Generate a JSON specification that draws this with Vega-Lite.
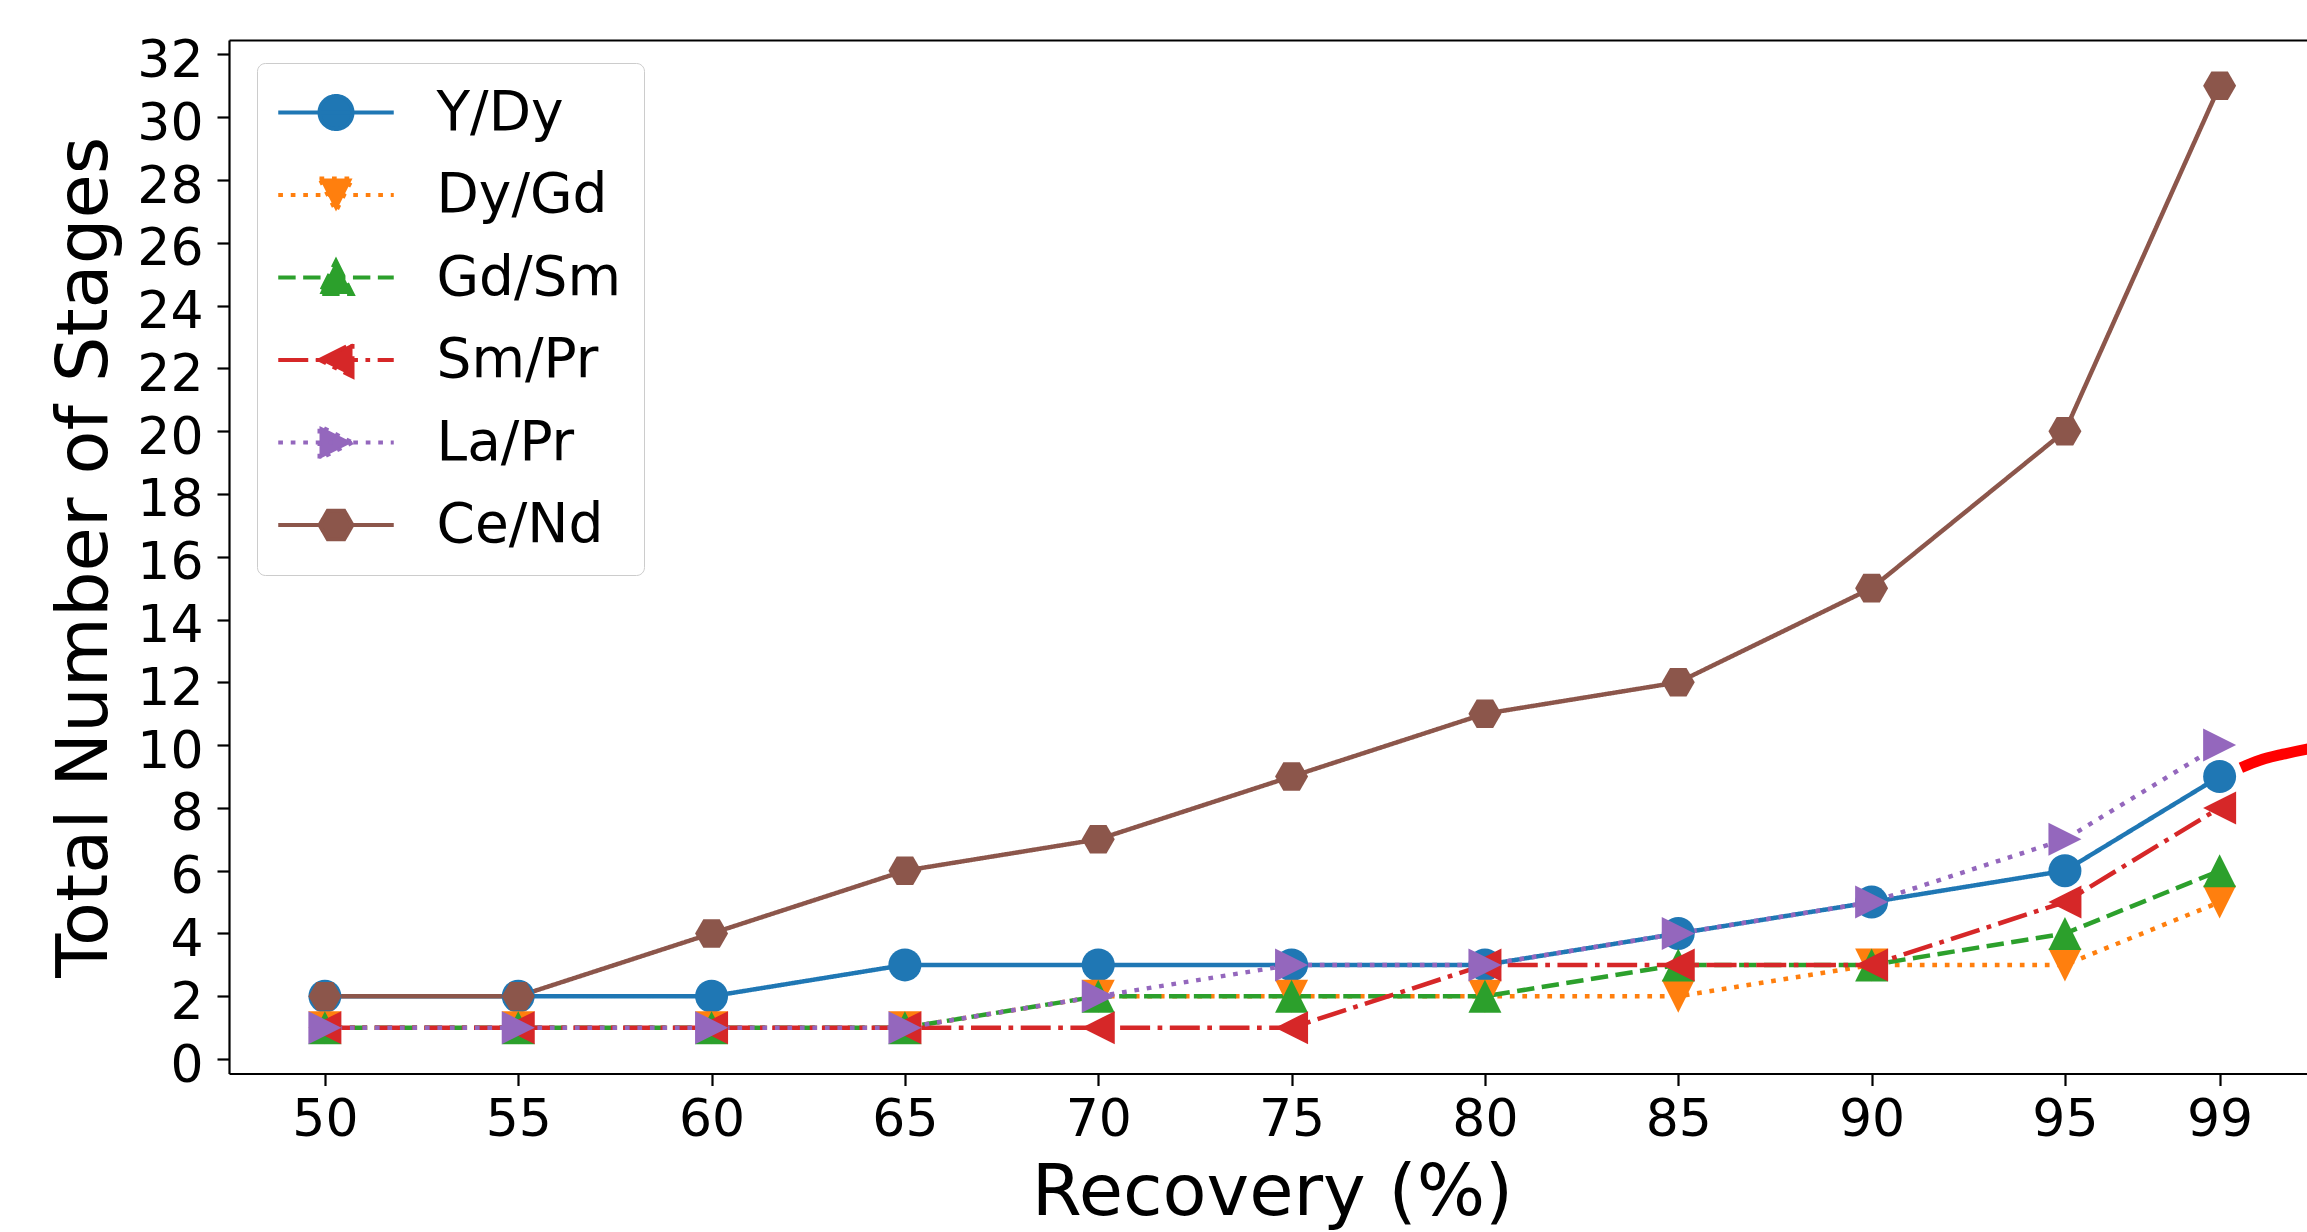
{
  "$schema": "https://vega.github.io/schema/vega-lite/v6.json",
  "width": 2078,
  "height": 1033.5,
  "autosize": {"type": "none"},
  "padding": {"left": 229, "top": 40, "right": 0, "bottom": 158.5},
  "background": "white",
  "config": {
    "view": {"stroke": null},
    "axis": {
      "grid": false,
      "labelFont": "DejaVu Sans",
      "titleFont": "DejaVu Sans",
      "labelColor": "black",
      "titleColor": "black",
      "titleFontWeight": "normal",
      "domainColor": "black",
      "domainWidth": 2.2,
      "tickColor": "black",
      "tickWidth": 2.2,
      "tickSize": 12,
      "labelFontSize": 52,
      "titleFontSize": 72,
      "labelOverlap": false,
      "labelFlush": false
    }
  },
  "datasets": {
    "main": [
      {"recovery": 50, "stages": 2, "series": "Y/Dy"},
      {"recovery": 55, "stages": 2, "series": "Y/Dy"},
      {"recovery": 60, "stages": 2, "series": "Y/Dy"},
      {"recovery": 65, "stages": 3, "series": "Y/Dy"},
      {"recovery": 70, "stages": 3, "series": "Y/Dy"},
      {"recovery": 75, "stages": 3, "series": "Y/Dy"},
      {"recovery": 80, "stages": 3, "series": "Y/Dy"},
      {"recovery": 85, "stages": 4, "series": "Y/Dy"},
      {"recovery": 90, "stages": 5, "series": "Y/Dy"},
      {"recovery": 95, "stages": 6, "series": "Y/Dy"},
      {"recovery": 99, "stages": 9, "series": "Y/Dy"},
      {"recovery": 50, "stages": 1, "series": "Dy/Gd"},
      {"recovery": 55, "stages": 1, "series": "Dy/Gd"},
      {"recovery": 60, "stages": 1, "series": "Dy/Gd"},
      {"recovery": 65, "stages": 1, "series": "Dy/Gd"},
      {"recovery": 70, "stages": 2, "series": "Dy/Gd"},
      {"recovery": 75, "stages": 2, "series": "Dy/Gd"},
      {"recovery": 80, "stages": 2, "series": "Dy/Gd"},
      {"recovery": 85, "stages": 2, "series": "Dy/Gd"},
      {"recovery": 90, "stages": 3, "series": "Dy/Gd"},
      {"recovery": 95, "stages": 3, "series": "Dy/Gd"},
      {"recovery": 99, "stages": 5, "series": "Dy/Gd"},
      {"recovery": 50, "stages": 1, "series": "Gd/Sm"},
      {"recovery": 55, "stages": 1, "series": "Gd/Sm"},
      {"recovery": 60, "stages": 1, "series": "Gd/Sm"},
      {"recovery": 65, "stages": 1, "series": "Gd/Sm"},
      {"recovery": 70, "stages": 2, "series": "Gd/Sm"},
      {"recovery": 75, "stages": 2, "series": "Gd/Sm"},
      {"recovery": 80, "stages": 2, "series": "Gd/Sm"},
      {"recovery": 85, "stages": 3, "series": "Gd/Sm"},
      {"recovery": 90, "stages": 3, "series": "Gd/Sm"},
      {"recovery": 95, "stages": 4, "series": "Gd/Sm"},
      {"recovery": 99, "stages": 6, "series": "Gd/Sm"},
      {"recovery": 50, "stages": 1, "series": "Sm/Pr"},
      {"recovery": 55, "stages": 1, "series": "Sm/Pr"},
      {"recovery": 60, "stages": 1, "series": "Sm/Pr"},
      {"recovery": 65, "stages": 1, "series": "Sm/Pr"},
      {"recovery": 70, "stages": 1, "series": "Sm/Pr"},
      {"recovery": 75, "stages": 1, "series": "Sm/Pr"},
      {"recovery": 80, "stages": 3, "series": "Sm/Pr"},
      {"recovery": 85, "stages": 3, "series": "Sm/Pr"},
      {"recovery": 90, "stages": 3, "series": "Sm/Pr"},
      {"recovery": 95, "stages": 5, "series": "Sm/Pr"},
      {"recovery": 99, "stages": 8, "series": "Sm/Pr"},
      {"recovery": 50, "stages": 1, "series": "La/Pr"},
      {"recovery": 55, "stages": 1, "series": "La/Pr"},
      {"recovery": 60, "stages": 1, "series": "La/Pr"},
      {"recovery": 65, "stages": 1, "series": "La/Pr"},
      {"recovery": 70, "stages": 2, "series": "La/Pr"},
      {"recovery": 75, "stages": 3, "series": "La/Pr"},
      {"recovery": 80, "stages": 3, "series": "La/Pr"},
      {"recovery": 85, "stages": 4, "series": "La/Pr"},
      {"recovery": 90, "stages": 5, "series": "La/Pr"},
      {"recovery": 95, "stages": 7, "series": "La/Pr"},
      {"recovery": 99, "stages": 10, "series": "La/Pr"},
      {"recovery": 50, "stages": 2, "series": "Ce/Nd"},
      {"recovery": 55, "stages": 2, "series": "Ce/Nd"},
      {"recovery": 60, "stages": 4, "series": "Ce/Nd"},
      {"recovery": 65, "stages": 6, "series": "Ce/Nd"},
      {"recovery": 70, "stages": 7, "series": "Ce/Nd"},
      {"recovery": 75, "stages": 9, "series": "Ce/Nd"},
      {"recovery": 80, "stages": 11, "series": "Ce/Nd"},
      {"recovery": 85, "stages": 12, "series": "Ce/Nd"},
      {"recovery": 90, "stages": 15, "series": "Ce/Nd"},
      {"recovery": 95, "stages": 20, "series": "Ce/Nd"},
      {"recovery": 99, "stages": 31, "series": "Ce/Nd"}
    ],
    "arc": [
      {"recovery": 99.55, "stages": 9.28},
      {"recovery": 100.04, "stages": 9.52},
      {"recovery": 100.64, "stages": 9.71},
      {"recovery": 101.26, "stages": 9.87},
      {"recovery": 101.6, "stages": 9.94}
    ]
  },
  "layer": [
    {
      "data": {"name": "main"},
      "mark": {"type": "line", "strokeWidth": 4.5, "strokeCap": "butt"},
      "encoding": {
        "x": {
          "field": "recovery", "type": "quantitative",
          "scale": {"domain": [47.52, 101.26], "nice": false, "zero": false},
          "axis": {
            "orient": "bottom",
            "values": [50, 55, 60, 65, 70, 75, 80, 85, 90, 95, 99],
            "title": "Recovery (%)",
            "labelPadding": 9,
            "titleX": 1043, "titleY": 141,
            "titleAlign": "center", "titleBaseline": "alphabetic"
          }
        },
        "y": {
          "field": "stages", "type": "quantitative",
          "scale": {"domain": [-0.46, 32.46], "nice": false, "zero": false},
          "axis": {
            "orient": "left",
            "values": [0, 2, 4, 6, 8, 10, 12, 14, 16, 18, 20, 22, 24, 26, 28, 30, 32],
            "title": "Total Number of Stages",
            "labelPadding": 14,
            "labelOffset": 6,
            "titleX": -123, "titleY": 516.75,
            "titleAngle": 270, "titleAlign": "center", "titleBaseline": "alphabetic"
          }
        },
        "color": {
          "field": "series", "type": "nominal", "legend": null,
          "scale": {
            "domain": ["Y/Dy", "Dy/Gd", "Gd/Sm", "Sm/Pr", "La/Pr", "Ce/Nd"],
            "range": ["#1f77b4", "#ff7f0e", "#2ca02c", "#d62728", "#9467bd", "#8c564b"]
          }
        },
        "strokeDash": {
          "field": "series", "type": "nominal", "legend": null,
          "scale": {
            "domain": ["Y/Dy", "Dy/Gd", "Gd/Sm", "Sm/Pr", "La/Pr", "Ce/Nd"],
            "range": [[1, 0], [4.7, 7.8], [17.4, 7.5], [30, 7.5, 4.7, 7.5], [4.7, 7.8], [1, 0]]
          }
        }
      }
    },
    {
      "data": {"name": "main"},
      "mark": {"type": "point", "filled": true, "opacity": 1, "size": 1089, "strokeWidth": 0},
      "encoding": {
        "x": {"field": "recovery", "type": "quantitative", "scale": {"domain": [47.52, 101.26], "nice": false, "zero": false}, "axis": null},
        "y": {"field": "stages", "type": "quantitative", "scale": {"domain": [-0.46, 32.46], "nice": false, "zero": false}},
        "color": {
          "field": "series", "type": "nominal", "legend": null,
          "scale": {
            "domain": ["Y/Dy", "Dy/Gd", "Gd/Sm", "Sm/Pr", "La/Pr", "Ce/Nd"],
            "range": ["#1f77b4", "#ff7f0e", "#2ca02c", "#d62728", "#9467bd", "#8c564b"]
          }
        },
        "shape": {
          "field": "series", "type": "nominal", "legend": null,
          "scale": {
            "domain": ["Y/Dy", "Dy/Gd", "Gd/Sm", "Sm/Pr", "La/Pr", "Ce/Nd"],
            "range": [
              "circle",
              "M-1,-1L1,-1L0,1Z",
              "M0,-1L1,1L-1,1Z",
              "M-1,0L1,-1L1,1Z",
              "M1,0L-1,1L-1,-1Z",
              "M1,0L0.5,0.866L-0.5,0.866L-1,0L-0.5,-0.866L0.5,-0.866Z"
            ]
          }
        }
      }
    },
    {
      "data": {"name": "main"},
      "transform": [{"filter": "false"}],
      "mark": {"type": "point", "filled": true, "opacity": 1, "strokeWidth": 4},
      "encoding": {
        "x": {"field": "recovery", "type": "quantitative", "scale": {"domain": [47.52, 101.26], "nice": false, "zero": false}, "axis": null},
        "y": {"field": "stages", "type": "quantitative", "scale": {"domain": [-0.46, 32.46], "nice": false, "zero": false}},
        "fill": {
          "field": "series", "type": "nominal",
          "scale": {
            "domain": ["Y/Dy", "Dy/Gd", "Gd/Sm", "Sm/Pr", "La/Pr", "Ce/Nd"],
            "range": ["#1f77b4", "#ff7f0e", "#2ca02c", "#d62728", "#9467bd", "#8c564b"]
          },
          "legend": {
            "title": null, "orient": "none", "legendX": 28, "legendY": 23,
            "padding": 22, "rowPadding": 26.5, "symbolSize": 1089, "symbolOffset": 29.5, "labelOffset": 73,
            "labelFontSize": 55, "labelFont": "DejaVu Sans", "labelColor": "black", "labelLimit": 400,
            "strokeColor": "#cccccc", "fillColor": "rgba(255,255,255,0.8)", "cornerRadius": 8,
            "symbolStrokeWidth": 4
          }
        },
        "stroke": {
          "field": "series", "type": "nominal",
          "scale": {
            "domain": ["Y/Dy", "Dy/Gd", "Gd/Sm", "Sm/Pr", "La/Pr", "Ce/Nd"],
            "range": ["#1f77b4", "#ff7f0e", "#2ca02c", "#d62728", "#9467bd", "#8c564b"]
          },
          "legend": {
            "title": null, "orient": "none", "legendX": 28, "legendY": 23,
            "padding": 22, "rowPadding": 26.5, "symbolSize": 1089, "symbolOffset": 29.5, "labelOffset": 73,
            "labelFontSize": 55, "labelFont": "DejaVu Sans", "labelColor": "black", "labelLimit": 400,
            "strokeColor": "#cccccc", "fillColor": "rgba(255,255,255,0.8)", "cornerRadius": 8,
            "symbolStrokeWidth": 4
          }
        },
        "shape": {
          "field": "series", "type": "nominal",
          "scale": {
            "domain": ["Y/Dy", "Dy/Gd", "Gd/Sm", "Sm/Pr", "La/Pr", "Ce/Nd"],
            "range": [
              "M-3.5,0H3.5M1,0A1,1,0,1,1,-1,0A1,1,0,1,1,1,0Z",
              "M-3.5,0H3.5M-1,-1L1,-1L0,1Z",
              "M-3.5,0H3.5M0,-1L1,1L-1,1Z",
              "M-3.5,0H3.5M-1,0L1,-1L1,1Z",
              "M-3.5,0H3.5M1,0L-1,1L-1,-1Z",
              "M-3.5,0H3.5M1,0L0.5,0.866L-0.5,0.866L-1,0L-0.5,-0.866L0.5,-0.866Z"
            ]
          },
          "legend": {
            "title": null, "orient": "none", "legendX": 28, "legendY": 23,
            "padding": 22, "rowPadding": 26.5, "symbolSize": 1089, "symbolOffset": 29.5, "labelOffset": 73,
            "labelFontSize": 55, "labelFont": "DejaVu Sans", "labelColor": "black", "labelLimit": 400,
            "strokeColor": "#cccccc", "fillColor": "rgba(255,255,255,0.8)", "cornerRadius": 8,
            "symbolStrokeWidth": 4
          }
        },
        "strokeDash": {
          "field": "series", "type": "nominal",
          "scale": {
            "domain": ["Y/Dy", "Dy/Gd", "Gd/Sm", "Sm/Pr", "La/Pr", "Ce/Nd"],
            "range": [[1, 0], [4.7, 7.8], [17.4, 7.5], [30, 7.5, 4.7, 7.5], [4.7, 7.8], [1, 0]]
          },
          "legend": {
            "title": null, "orient": "none", "legendX": 28, "legendY": 23,
            "padding": 22, "rowPadding": 26.5, "symbolSize": 1089, "symbolOffset": 29.5, "labelOffset": 73,
            "labelFontSize": 55, "labelFont": "DejaVu Sans", "labelColor": "black", "labelLimit": 400,
            "strokeColor": "#cccccc", "fillColor": "rgba(255,255,255,0.8)", "cornerRadius": 8,
            "symbolStrokeWidth": 4
          }
        }
      }
    },
    {
      "data": {"name": "arc"},
      "mark": {"type": "line", "color": "#ff0000", "strokeWidth": 11, "strokeCap": "butt", "interpolate": "monotone", "clip": true},
      "encoding": {
        "x": {
          "field": "recovery", "type": "quantitative",
          "scale": {"domain": [47.52, 101.26], "nice": false, "zero": false},
          "axis": {"orient": "top", "labels": false, "ticks": false, "title": null, "domain": true}
        },
        "y": {"field": "stages", "type": "quantitative", "scale": {"domain": [-0.46, 32.46], "nice": false, "zero": false}}
      }
    }
  ],
  "resolve": {
    "scale": {"shape": "independent", "strokeDash": "independent", "fill": "independent", "stroke": "independent"},
    "axis": {"x": "independent"}
  }
}
